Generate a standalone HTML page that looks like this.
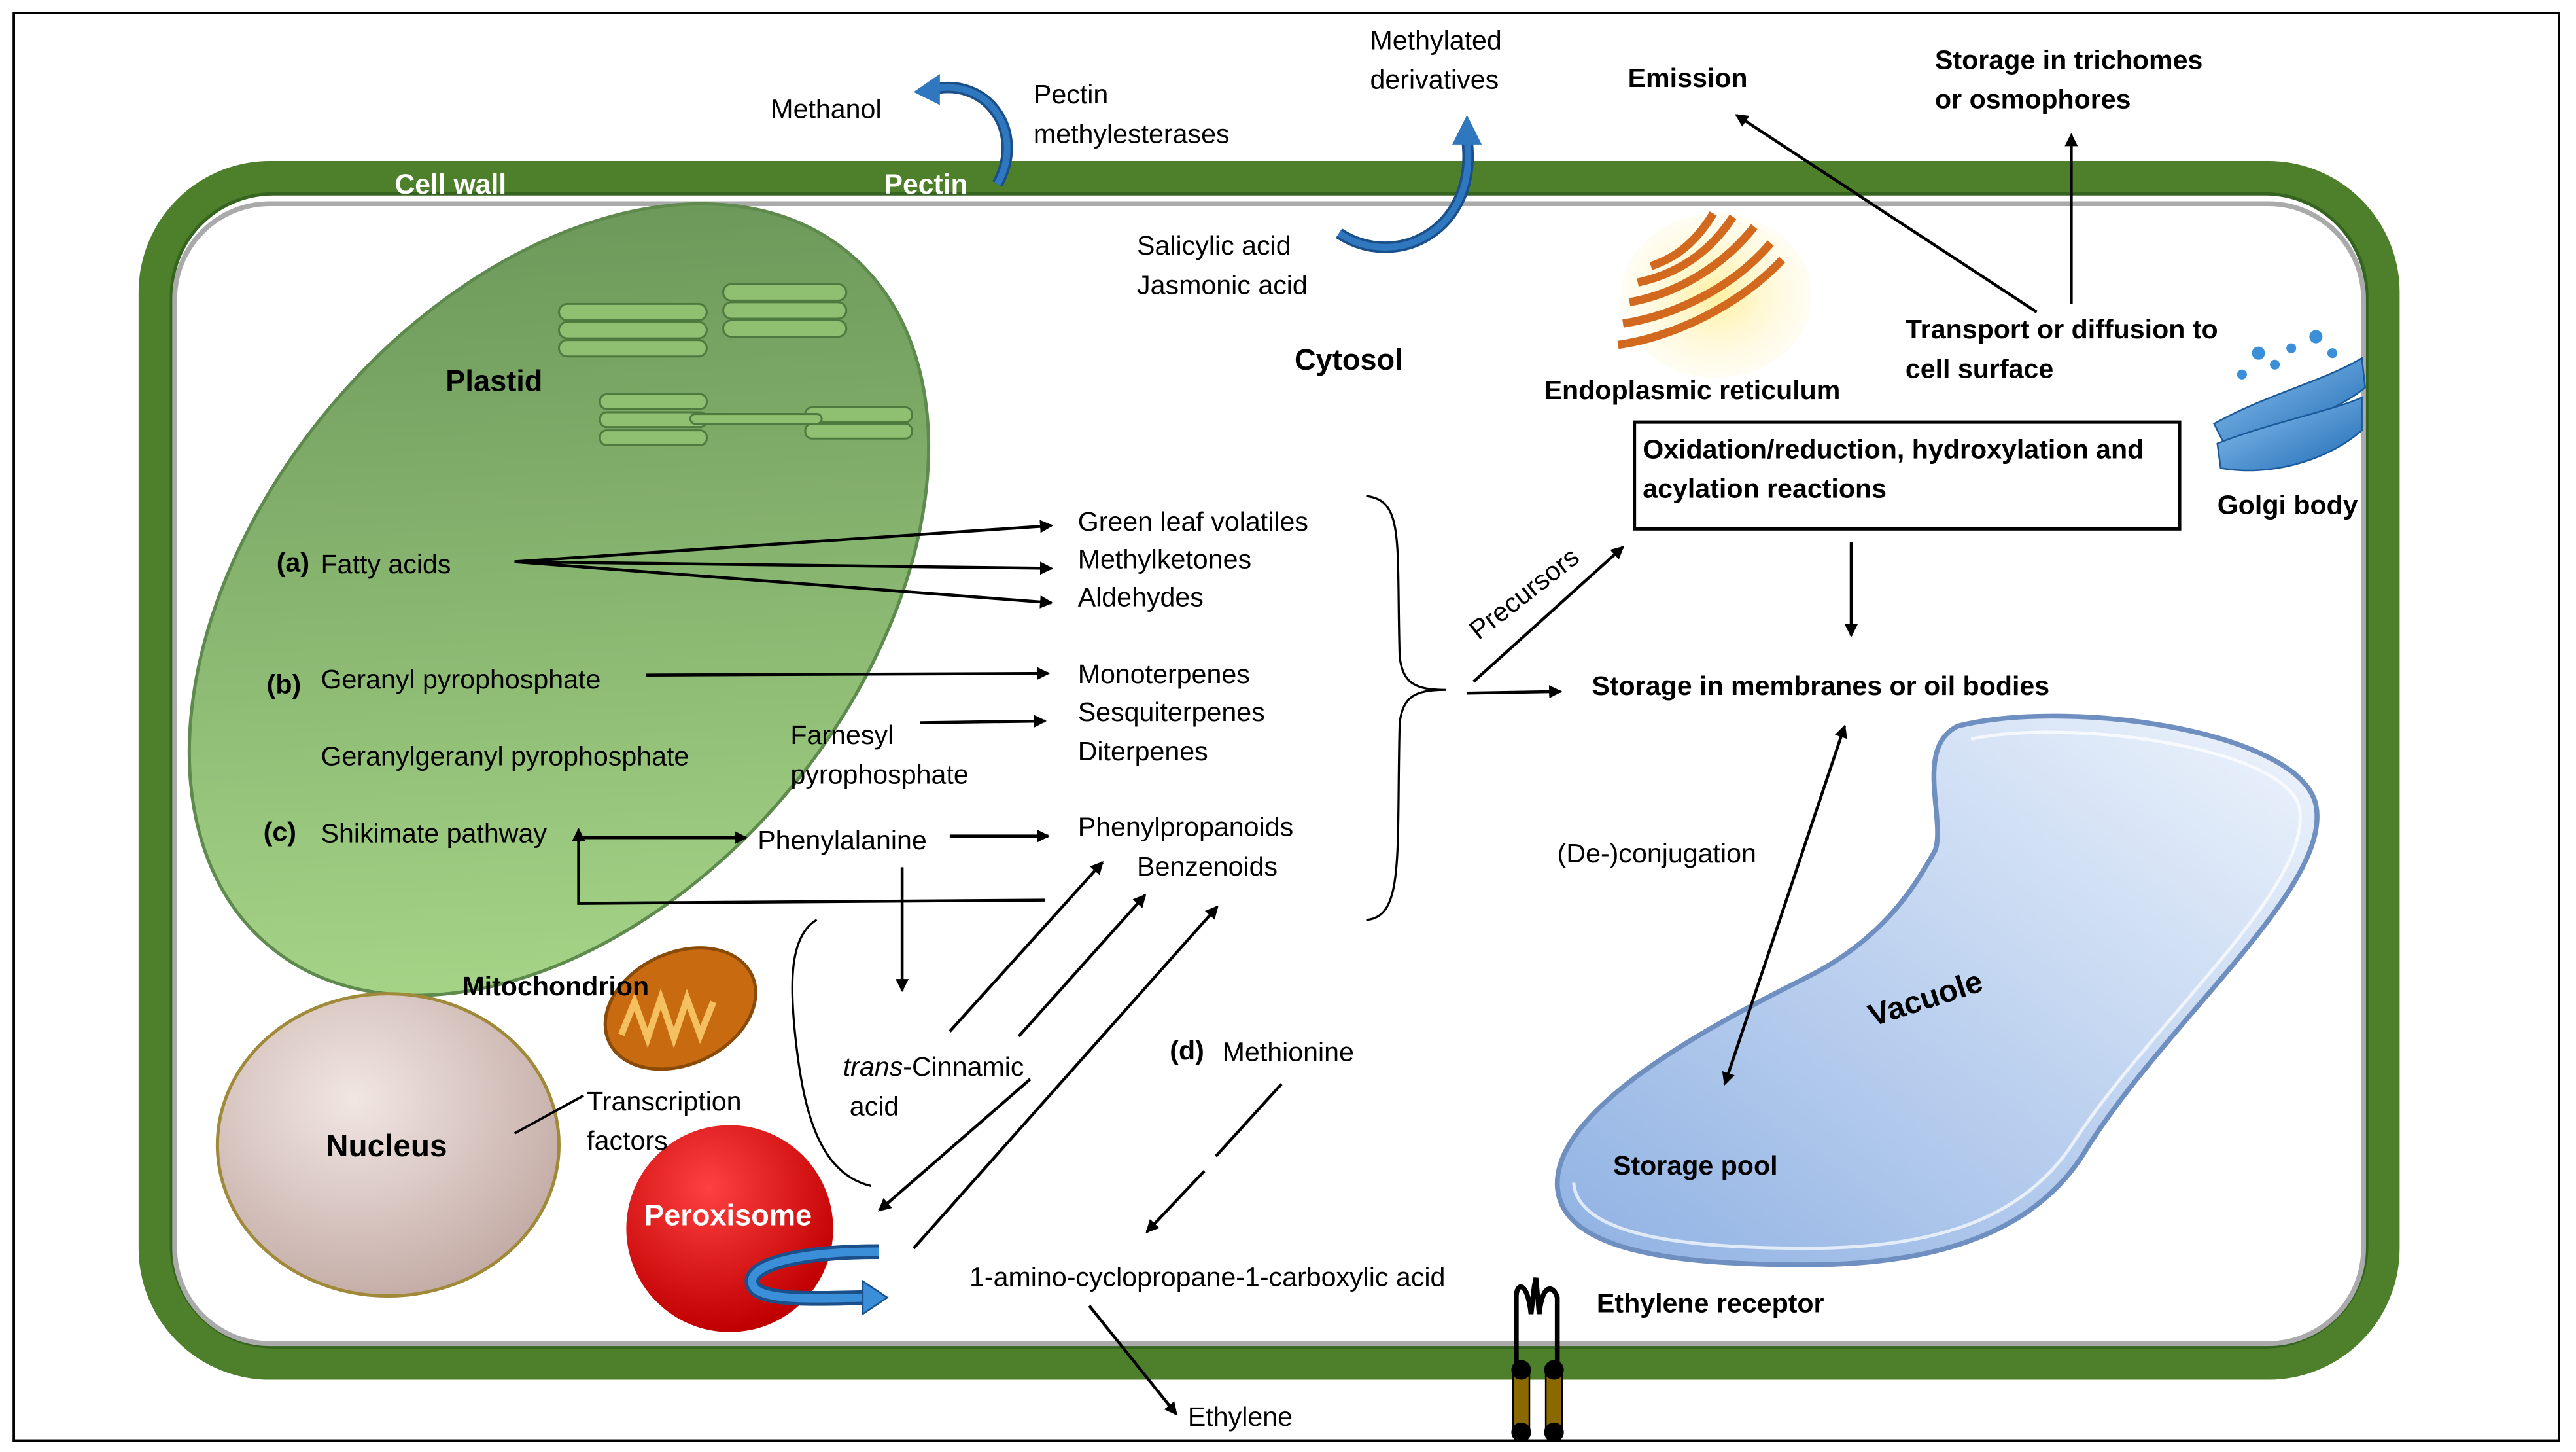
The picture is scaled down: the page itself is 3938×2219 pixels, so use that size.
<!DOCTYPE html>
<html><head><meta charset="utf-8"><style>
html,body{margin:0;padding:0;background:#fff}
svg{display:block}
text{font-family:"Liberation Sans",sans-serif;font-size:16.4px;fill:#000}
.b{font-weight:bold}
</style></head><body>
<svg width="3938" height="2219" viewBox="0 0 1568 884" xmlns="http://www.w3.org/2000/svg">
<defs>
<marker id="ar" markerWidth="8" markerHeight="8" refX="7" refY="4" orient="auto" markerUnits="userSpaceOnUse"><path d="M0,0 L8,4 L0,8 z" fill="#000"/></marker>
<marker id="ar2" markerWidth="8" markerHeight="8" refX="1" refY="4" orient="auto" markerUnits="userSpaceOnUse"><path d="M8,0 L0,4 L8,8 z" fill="#000"/></marker>
<linearGradient id="pl" gradientUnits="userSpaceOnUse" x1="150" y1="560" x2="540" y2="200"><stop offset="0" stop-color="#a9d88a"/><stop offset="1" stop-color="#6a9658"/></linearGradient>
<radialGradient id="nu" cx="0.4" cy="0.35" r="0.7"><stop offset="0" stop-color="#f1e6e3"/><stop offset="1" stop-color="#c3aaa4"/></radialGradient>
<radialGradient id="px" cx="0.4" cy="0.3" r="0.7"><stop offset="0" stop-color="#ff4040"/><stop offset="1" stop-color="#c00000"/></radialGradient>
<linearGradient id="va" x1="0" y1="1" x2="1" y2="0"><stop offset="0" stop-color="#8fb1e3"/><stop offset="1" stop-color="#eef4fc"/></linearGradient>
<linearGradient id="go" x1="0" y1="0" x2="1" y2="1"><stop offset="0" stop-color="#8ec3f0"/><stop offset="1" stop-color="#1f6bb5"/></linearGradient>
<radialGradient id="er" cx="0.5" cy="0.5" r="0.5"><stop offset="0" stop-color="#fff0a0"/><stop offset="1" stop-color="#fff8d8" stop-opacity="0.3"/></radialGradient>
</defs>
<rect x="8" y="8" width="1550" height="869" fill="#fff" stroke="#000" stroke-width="1.5"/>
<rect x="94" y="108" width="1357" height="722" rx="70" fill="#fff" stroke="#4e7f2a" stroke-width="20"/>
<rect x="104" y="118" width="1337" height="702" rx="62" fill="none" stroke="#356420" stroke-width="2"/>
<rect x="106" y="124" width="1333" height="694" rx="58" fill="none" stroke="#aaa" stroke-width="3"/>
<text x="240" y="118" class="b" style="fill:#fff;font-size:17px">Cell wall</text>
<text x="538" y="118" class="b" style="fill:#fff;font-size:17px">Pectin</text>
<ellipse cx="340" cy="365" rx="275" ry="182" transform="rotate(-50 340 365)" fill="url(#pl)" stroke="#5f8a4e" stroke-width="2"/>
<g fill="#8fbf70" stroke="#4f7a3f" stroke-width="1.2">
<rect x="340" y="185" width="90" height="10" rx="5"/><rect x="340" y="196" width="90" height="10" rx="5"/><rect x="340" y="207" width="90" height="10" rx="5"/>
<rect x="440" y="173" width="75" height="10" rx="5"/><rect x="440" y="184" width="75" height="10" rx="5"/><rect x="440" y="195" width="75" height="10" rx="5"/>
<rect x="365" y="240" width="65" height="9" rx="4"/><rect x="365" y="251" width="65" height="9" rx="4"/><rect x="365" y="262" width="65" height="9" rx="4"/>
<rect x="490" y="248" width="65" height="9" rx="4"/><rect x="490" y="258" width="65" height="9" rx="4"/>
<rect x="420" y="252" width="80" height="6" rx="3"/>
</g>
<text x="271" y="238" class="b" style="font-size:18px">Plastid</text>
<text x="168" y="348" class="b">(a)</text><text x="195" y="349">Fatty acids</text>
<text x="162" y="422" class="b">(b)</text><text x="195" y="419">Geranyl pyrophosphate</text>
<text x="195" y="466">Geranylgeranyl pyrophosphate</text>
<text x="160" y="512" class="b">(c)</text><text x="195" y="513">Shikimate pathway</text>
<ellipse cx="236" cy="697" rx="104" ry="92" fill="url(#nu)" stroke="#a08a3a" stroke-width="2"/>
<text x="198" y="704" class="b" style="font-size:19px">Nucleus</text>
<ellipse cx="414" cy="614" rx="48" ry="34" transform="rotate(-25 414 614)" fill="#c86a10" stroke="#8a4a08" stroke-width="2"/>
<path d="M378,630 l8,-20 l8,22 l8,-24 l8,24 l8,-24 l8,22 l8,-20" fill="none" stroke="#f5c060" stroke-width="4"/>
<text x="281" y="606" class="b">Mitochondrion</text>
<circle cx="444" cy="748" r="63" fill="url(#px)"/>
<text x="392" y="746" class="b" style="font-size:18px;fill:#fff">Peroxisome</text>
<path d="M535,762 C470,762 450,775 460,785 C470,793 510,790 530,790" fill="none" stroke="#1a4f8a" stroke-width="9"/>
<path d="M535,762 C470,762 450,775 460,785 C470,793 510,790 530,790" fill="none" stroke="#3b8fd8" stroke-width="5"/>
<path d="M525,780 L540,790 L525,800 z" fill="#3b8fd8" stroke="#1a4f8a"/>
<text x="357" y="676">Transcription</text><text x="357" y="700">factors</text>
<line x1="313" y1="690" x2="355" y2="667" stroke="#000" stroke-width="1.5"/>
<path d="M607,112 C625,80 600,45 565,55" fill="none" stroke="#1a4f8a" stroke-width="7"/>
<path d="M607,112 C625,80 600,45 565,55" fill="none" stroke="#2f78c0" stroke-width="4"/>
<path d="M572,45 L556,56 L572,64 z" fill="#2f78c0"/>
<text x="469" y="72">Methanol</text>
<text x="629" y="63">Pectin</text><text x="629" y="87">methylesterases</text>
<path d="M815,142 C850,165 900,140 893,85" fill="none" stroke="#1a4f8a" stroke-width="7"/>
<path d="M815,142 C850,165 900,140 893,85" fill="none" stroke="#2f78c0" stroke-width="4"/>
<path d="M884,88 L893,70 L902,88 z" fill="#2f78c0"/>
<text x="834" y="30">Methylated</text><text x="834" y="54">derivatives</text>
<text x="692" y="155">Salicylic acid</text><text x="692" y="179">Jasmonic acid</text>
<text x="788" y="225" class="b" style="font-size:18px">Cytosol</text>
<ellipse cx="1045" cy="180" rx="58" ry="50" fill="url(#er)"/>
<g fill="none" stroke="#d2691e" stroke-width="5">
<path d="M985,210 C1020,205 1060,185 1085,158"/><path d="M988,197 C1020,192 1055,175 1078,148"/><path d="M992,184 C1020,179 1048,163 1068,138"/><path d="M997,172 C1020,167 1040,155 1055,132"/><path d="M1005,162 C1020,157 1032,148 1043,130"/>
</g>
<text x="940" y="243" class="b">Endoplasmic reticulum</text>
<g fill="url(#go)" stroke="#1a5a9a">
<path d="M1348,258 C1380,240 1415,232 1438,218 L1440,236 C1420,252 1385,264 1355,272 z"/>
<path d="M1350,270 C1380,258 1420,250 1438,242 L1438,262 C1415,282 1380,290 1352,285 z"/>
</g>
<g fill="#3b8fd8"><circle cx="1375" cy="215" r="4"/><circle cx="1385" cy="222" r="3"/><circle cx="1395" cy="212" r="3"/><circle cx="1410" cy="205" r="4"/><circle cx="1420" cy="215" r="3"/><circle cx="1365" cy="228" r="3"/></g>
<text x="1350" y="313" class="b">Golgi body</text>
<text x="991" y="53" class="b">Emission</text>
<text x="1178" y="42" class="b">Storage in trichomes</text><text x="1178" y="66" class="b">or osmophores</text>
<text x="1160" y="206" class="b">Transport or diffusion to</text><text x="1160" y="230" class="b">cell surface</text>
<line x1="1240" y1="190" x2="1057" y2="70" stroke="#000" stroke-width="1.8" marker-end="url(#ar)"/>
<line x1="1261" y1="185" x2="1261" y2="82" stroke="#000" stroke-width="1.8" marker-end="url(#ar)"/>
<rect x="995" y="257" width="332" height="65" fill="#fff" stroke="#000" stroke-width="2"/>
<text x="1000" y="279" class="b">Oxidation/reduction, hydroxylation and</text>
<text x="1000" y="303" class="b">acylation reactions</text>
<line x1="1127" y1="330" x2="1127" y2="387" stroke="#000" stroke-width="1.8" marker-end="url(#ar)"/>
<text x="969" y="423" class="b">Storage in membranes or oil bodies</text>
<text x="900" y="390" transform="rotate(-38 900 390)">Precursors</text>
<line x1="897" y1="415" x2="988" y2="333" stroke="#000" stroke-width="1.8" marker-end="url(#ar)"/>
<line x1="893" y1="422" x2="950" y2="421" stroke="#000" stroke-width="1.8" marker-end="url(#ar)"/>
<path d="M1192,442 C1260,425 1400,445 1410,490 C1420,540 1320,620 1270,700 C1240,750 1180,770 1100,770 C1020,770 950,762 948,722 C946,675 1040,625 1100,595 C1150,570 1168,535 1178,518 C1185,500 1165,455 1192,442 z" fill="url(#va)" stroke="#6f8fc0" stroke-width="3"/>
<path d="M1200,450 C1260,437 1392,455 1400,492 C1408,540 1312,620 1262,696 C1232,742 1178,760 1100,760 C1025,760 960,752 958,720" fill="none" stroke="#fff" stroke-width="2" opacity="0.7"/>
<text x="1140" y="625" class="b" transform="rotate(-18 1140 625)" style="font-size:19px">Vacuole</text>
<text x="982" y="715" class="b">Storage pool</text>
<text x="948" y="525">(De-)conjugation</text>
<line x1="1123" y1="442" x2="1050" y2="660" stroke="#000" stroke-width="1.8" marker-start="url(#ar2)" marker-end="url(#ar)"/>
<text x="656" y="323">Green leaf volatiles</text><text x="656" y="346">Methylketones</text><text x="656" y="369">Aldehydes</text>
<text x="656" y="416">Monoterpenes</text><text x="656" y="439">Sesquiterpenes</text><text x="656" y="463">Diterpenes</text>
<text x="656" y="509">Phenylpropanoids</text><text x="692" y="533">Benzenoids</text>
<text x="481" y="453">Farnesyl</text><text x="481" y="477">pyrophosphate</text>
<text x="461" y="517">Phenylalanine</text>
<text x="513" y="655"><tspan font-style="italic">trans</tspan>-Cinnamic</text><text x="517" y="679">acid</text>
<text x="712" y="645" class="b">(d)</text><text x="744" y="646">Methionine</text>
<text x="590" y="783">1-amino-cyclopropane-1-carboxylic acid</text>
<text x="723" y="868">Ethylene</text>
<text x="972" y="799" class="b">Ethylene receptor</text>
<path d="M832,302 C855,305 850,330 852,400 C854,415 860,420 880,420 C860,420 854,425 852,440 C850,520 855,558 832,560" fill="none" stroke="#000" stroke-width="1.3"/>
<path d="M497,560 C480,570 480,600 485,640 C490,680 500,715 530,722" fill="none" stroke="#000" stroke-width="1.3"/>
<g stroke="#000" stroke-width="1.8" fill="none">
<line x1="313" y1="342" x2="640" y2="320" marker-end="url(#ar)"/>
<line x1="313" y1="342" x2="640" y2="346" marker-end="url(#ar)"/>
<line x1="313" y1="342" x2="640" y2="367" marker-end="url(#ar)"/>
<line x1="393" y1="411" x2="638" y2="410" marker-end="url(#ar)"/>
<line x1="560" y1="440" x2="636" y2="439" marker-end="url(#ar)"/>
<line x1="355" y1="510" x2="454" y2="510" marker-end="url(#ar)"/>
<line x1="578" y1="509" x2="638" y2="509" marker-end="url(#ar)"/>
<path d="M636,548 L352,550 L352,505" marker-end="url(#ar)"/>
<line x1="549" y1="528" x2="549" y2="603" marker-end="url(#ar)"/>
<line x1="578" y1="628" x2="671" y2="525" marker-end="url(#ar)"/>
<line x1="620" y1="631" x2="697" y2="545" marker-end="url(#ar)"/>
<line x1="627" y1="657" x2="535" y2="737" marker-end="url(#ar)"/>
<line x1="556" y1="760" x2="741" y2="552" marker-end="url(#ar)"/>
<line x1="780" y1="660" x2="740" y2="704"/>
<line x1="733" y1="713" x2="698" y2="750" marker-end="url(#ar)"/>
<line x1="663" y1="795" x2="716" y2="861" marker-end="url(#ar)"/>
</g>
<g>
<path d="M923,835 L923,790 C923,780 930,780 932,800 L934,783 L935,778 L937,800 C939,780 946,783 948,790 L948,835" fill="none" stroke="#000" stroke-width="3"/>
<rect x="921" y="835" width="10" height="35" fill="#8a6a00" stroke="#000"/>
<rect x="941" y="835" width="10" height="35" fill="#8a6a00" stroke="#000"/>
<circle cx="926" cy="834" r="6"/><circle cx="946" cy="834" r="6"/>
<circle cx="926" cy="872" r="6"/><circle cx="946" cy="872" r="6"/>
</g>
</svg>
</body></html>
